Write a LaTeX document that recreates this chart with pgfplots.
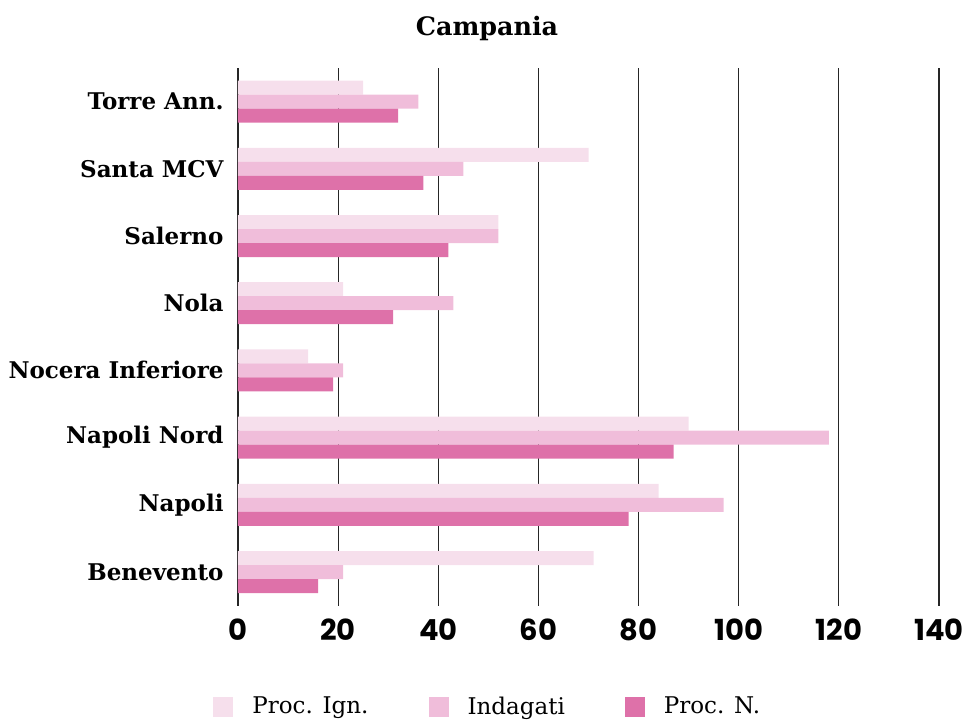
\documentclass[border=0pt]{standalone}
\usepackage{pgfplots}
\pgfplotsset{compat=1.18}
\usepackage{fontspec}
\setmainfont{DejaVu Serif}
\newfontfamily\tickfont{Poppins}
\definecolor{cA}{HTML}{F6DFEC}
\definecolor{cB}{HTML}{F0BDDA}
\definecolor{cC}{HTML}{DE71A9}
\begin{document}
\begin{tikzpicture}
\path[use as bounding box] (0,0) rectangle (484.5pt,360pt);
\begin{axis}[
  at={(119pt,57.2pt)}, anchor=south west,
  scale only axis, width=350.5pt, height=268.8pt,
  xbar, bar width=7pt,
  xmin=0, xmax=140, ymin=-0.5, ymax=7.5,
  xtick={0,20,...,140},
  ytick={0,...,7},
  yticklabels={Benevento, Napoli, Napoli Nord, Nocera Inferiore, Nola, Salerno, Santa MCV, Torre Ann.},
  xmajorgrids, grid style={black!85, line width=0.6pt},
  axis line style={draw=none},
  major tick length=0pt,
  /pgf/number format/assume math mode=true,
  xticklabel style={font=\tickfont\bfseries\fontsize{14.5}{16}\selectfont, yshift=-3pt},
  yticklabel style={font=\bfseries\fontsize{11.5}{13}\selectfont, xshift=-3.7pt},
  legend columns=3,
  legend style={at={(axis description cs:-0.0357,-0.1886)}, anchor=west, draw=none, inner sep=0pt,
    nodes={inner sep=0pt}, font=\fontsize{11.5}{13}\selectfont,
    /tikz/every odd column/.append style={column sep=9.5pt},
    /tikz/every even column/.append style={column sep=30pt}},
  legend image code/.code={\fill[#1] (0pt,-5pt) rectangle (10pt,5pt);},
]
\addplot[fill=cA, draw=none, bar shift=7pt] coordinates {(71,0) (84,1) (90,2) (14,3) (21,4) (52,5) (70,6) (25,7)};
\addplot[fill=cB, draw=none, bar shift=0pt] coordinates {(21,0) (97,1) (118,2) (21,3) (43,4) (52,5) (45,6) (36,7)};
\addplot[fill=cC, draw=none, bar shift=-7pt] coordinates {(16,0) (78,1) (87,2) (19,3) (31,4) (42,5) (37,6) (32,7)};
\legend{Proc. Ign., Indagati, Proc. N.}
\end{axis}
\node[font=\bfseries\fontsize{12.7}{14}\selectfont] at (243.5pt,346pt) {Campania};
\end{tikzpicture}
\end{document}
